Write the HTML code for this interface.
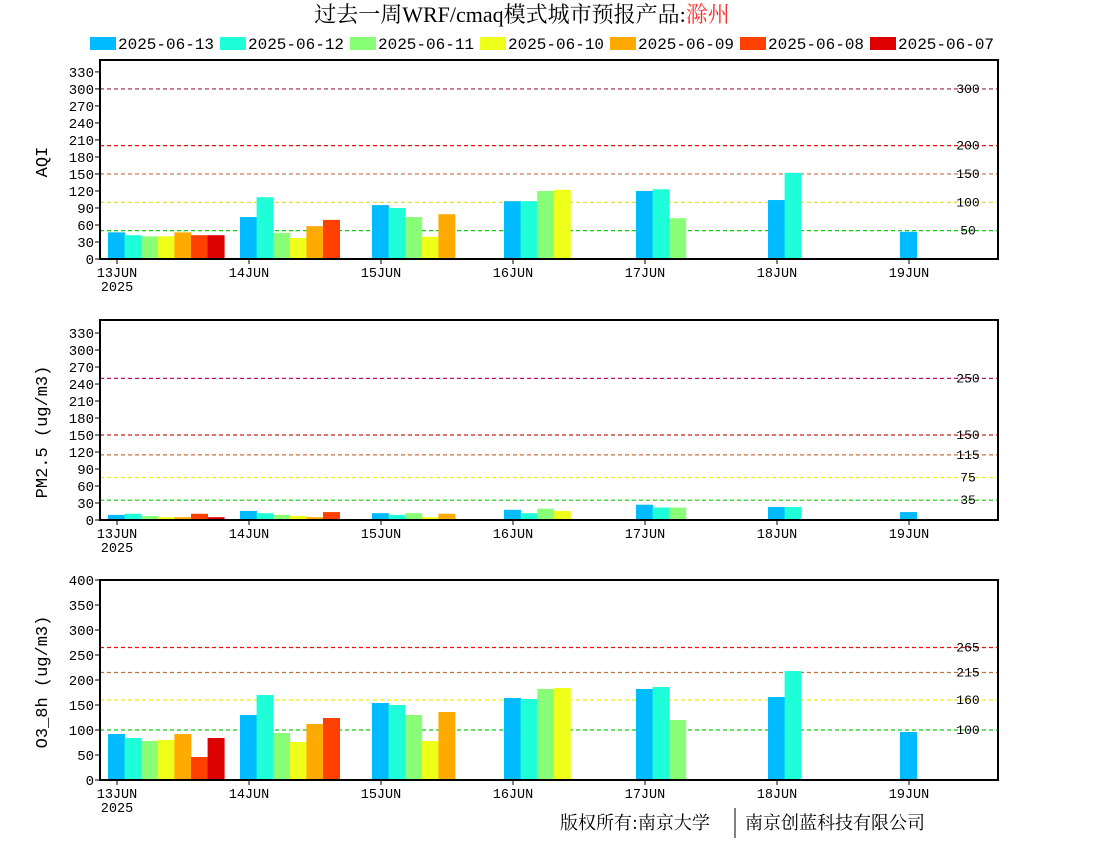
<!DOCTYPE html>
<html><head><meta charset="utf-8"><style>
body{margin:0;background:#fff;width:1100px;height:850px;overflow:hidden}
svg text{font-family:"Liberation Mono","Noto Sans CJK SC",monospace}
</style></head><body>
<svg id="c" width="1100" height="850" xmlns="http://www.w3.org/2000/svg">
<text x="522" y="22" font-size="22" text-anchor="middle" style="font-family:'Liberation Serif','Noto Serif CJK SC',serif">过去一周WRF/cmaq模式城市预报产品:<tspan fill="#ff3030">滁州</tspan></text>
<g id="legend"></g>
<g id="panels"></g>
<text x="560" y="829" font-size="18" style="font-family:'Noto Serif CJK SC',serif">版权所有:南京大学</text>
<line x1="735" y1="808" x2="735" y2="838" stroke="#000" stroke-width="1"/>
<text x="745" y="829" font-size="18" style="font-family:'Noto Serif CJK SC',serif">南京创蓝科技有限公司</text>
</svg>
<script>
const seriesNames=["2025-06-13","2025-06-12","2025-06-11","2025-06-10","2025-06-09","2025-06-08","2025-06-07"];
const colors=["#00bbff","#1effd9","#88ff77","#eeff1a","#ffaa00","#ff4000","#dd0000"];
const days=["13JUN","14JUN","15JUN","16JUN","17JUN","18JUN","19JUN"];
const aqiValues=[[47,42,40,40,47,42,42],[74,109,46,37,58,69],[95,90,74,39,79],[102,102,120,122],[120,123,72],[104,152],[48]];
const pmValues=[[9,11,7,5,5,11,5],[16,12,9,7,5,14],[12,9,12,5,11],[18,12,20,16],[27,22,22],[23,23],[14]];
const o3Values=[[92,84,78,80,92,46,84],[130,170,94,76,112,124],[154,150,130,78,136],[164,162,182,184],[182,186,120],[166,218],[96]];
const aqiTicks=[0,30,60,90,120,150,180,210,240,270,300,330];
const pmTicks=[0,30,60,90,120,150,180,210,240,270,300,330];
const o3Ticks=[0,50,100,150,200,250,300,350,400];
const aqiLines=[[300,"#a02050"],[200,"#ee1010"],[150,"#c07040"],[100,"#dddd20"],[50,"#10cc10"]];
const pmLines=[[250,"#c01070"],[150,"#cc2020"],[115,"#c07040"],[75,"#eeee10"],[35,"#10cc10"]];
const o3Lines=[[265,"#ee1010"],[215,"#c07040"],[160,"#eeee10"],[100,"#10cc10"]];
const NS="http://www.w3.org/2000/svg";
function mk(tag,attrs,parent){const e=document.createElementNS(NS,tag);for(const k in attrs)e.setAttribute(k,attrs[k]);parent.appendChild(e);return e;}
const lg=document.getElementById('legend');
seriesNames.forEach((n,i)=>{
  const x=90+i*130;
  const r=mk('rect',{x:x,y:37,width:26,height:13,fill:colors[i]},lg);
  
  
  const t=mk('text',{x:x+28,y:49,'font-size':16},lg);t.textContent=n;
  
  
});
const L=100,R=998,dayX0=117,daySp=132,barW=16.6;
function panel(name,top,bottom,maxV,ticks,lines,vals,ytitle,titleY){
  const g=mk('g',{},document.getElementById('panels'));
  
  
  const y=v=>bottom-(v/maxV)*(bottom-top);
  const x=d=>dayX0+d*daySp;
  lines.forEach(([v,c])=>{
    const l=mk('line',{x1:L,x2:R,y1:y(v),y2:y(v),stroke:c,'stroke-width':1.2,'stroke-dasharray':'4,3'},g);
    
    
    const t=mk('text',{x:968,y:y(v)+4,'font-size':13,'text-anchor':'middle'},g);t.textContent=v;
    
    
  });
  vals.forEach((arr,d)=>arr.forEach((v,s)=>{
    const b=mk('rect',{x:x(d)-9+s*barW,y:y(v),width:barW+0.4,height:bottom-y(v),fill:colors[s]},g);
    
    
  }));
  mk('rect',{x:L,y:top,width:R-L,height:bottom-top,fill:'none',stroke:'#000','stroke-width':2},g);
  ticks.forEach(v=>{
    mk('line',{x1:L-5,x2:L,y1:y(v),y2:y(v),stroke:'#000'},g);
    const t=mk('text',{x:L-6,y:y(v)+5,'font-size':14,'text-anchor':'end'},g);t.textContent=v;
    
    
  });
  days.forEach((dn,d)=>{
    mk('line',{x1:x(d),x2:x(d),y1:bottom,y2:bottom+5,stroke:'#000'},g);
    const t=mk('text',{x:x(d),y:bottom+18,'font-size':13.5,'text-anchor':'middle'},g);t.textContent=dn;
    
    
  });
  const yr=mk('text',{x:x(0),y:bottom+32,'font-size':13.5,'text-anchor':'middle'},g);yr.textContent='2025';
  
  
  const yt=mk('text',{x:47,y:titleY,'font-size':17,'text-anchor':'middle',transform:'rotate(-90 47 '+titleY+')'},g);yt.textContent=ytitle;
  
  
}
panel('aqi',60,259,351,aqiTicks,aqiLines,aqiValues,'AQI',162);
panel('pm25',320,520,353,pmTicks,pmLines,pmValues,'PM2.5 (ug/m3)',432);
panel('o3',580,780,400,o3Ticks,o3Lines,o3Values,'O3_8h (ug/m3)',682);
</script>
</body></html>
